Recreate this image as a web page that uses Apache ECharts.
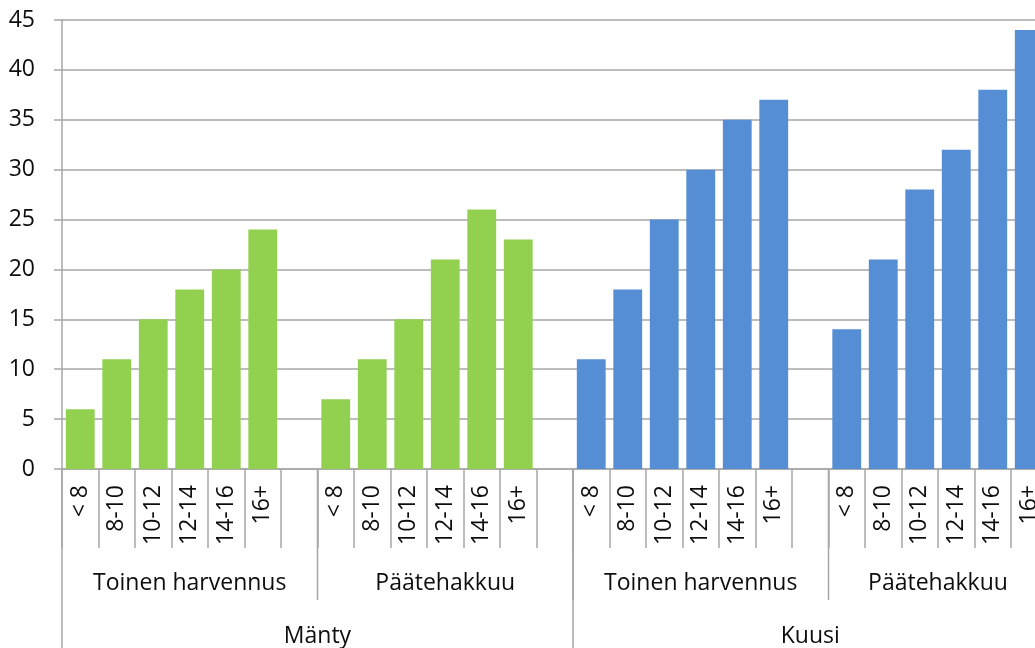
<!DOCTYPE html>
<html>
<head>
<meta charset="utf-8">
<script src="https://cdn.jsdelivr.net/npm/echarts@6/dist/echarts.min.js"></script>
<style>
  html, body { margin: 0; padding: 0; background: #ffffff; overflow: hidden; }
  #chart { width: 1035px; height: 648px; }
</style>
</head>
<body>
<div id="chart"></div>
<script>
// Diameter classes (cm) used inside every cutting group
const classes = ['< 8', '8-10', '10-12', '12-14', '14-16', '16+'];
// Cutting types (second level) and tree species (third level)
const cuttings = ['Toinen harvennus', 'Päätehakkuu'];
const species = ['Mänty', 'Kuusi'];

// Values per species and cutting type
const mantyToinen = [6, 11, 15, 18, 20, 24];
const mantyPaate = [7, 11, 15, 21, 26, 23];
const kuusiToinen = [11, 18, 25, 30, 35, 37];
const kuusiPaate = [14, 21, 28, 32, 38, 44];

const yTicks = [0, 5, 10, 15, 20, 25, 30, 35, 40, 45];

const colors = { 'Mänty': '#92D050', 'Kuusi': '#558ED5' };
const FONT = '"Open Sans", "Noto Sans", sans-serif';
const FS = 23;
const TEXT = '#0d0d0d';
const LINE = '#a6a6a6';

// Build the flat category list: each group of six classes is followed by
// an empty spacer slot, except the very last group.
const groups = [
  { sp: 'Mänty', cut: cuttings[0], vals: mantyToinen },
  { sp: 'Mänty', cut: cuttings[1], vals: mantyPaate },
  { sp: 'Kuusi', cut: cuttings[0], vals: kuusiToinen },
  { sp: 'Kuusi', cut: cuttings[1], vals: kuusiPaate }
];
const cats = [];
const seriesData = { 'Mänty': [], 'Kuusi': [] };
const groupSpans = [];   // [startIndex, endIndexExclusive, label, species]
groups.forEach((g, gi) => {
  const start = cats.length;
  classes.forEach((c, i) => {
    cats.push(c);
    species.forEach(s => seriesData[s].push(s === g.sp ? g.vals[i] : null));
  });
  if (gi < groups.length - 1) {
    cats.push('');
    species.forEach(s => seriesData[s].push(null));
  }
  groupSpans.push([start, cats.length, g.cut, g.sp]);
});
const speciesSpans = species.map(s => {
  const gs = groupSpans.filter(g => g[3] === s);
  return [gs[0][0], gs[gs.length - 1][1], s];
});

const chart = echarts.init(document.getElementById('chart'));

// The plot continues past the right edge of the canvas.
const option = {
  animation: false,
  grid: {
    left: 62, top: 20, bottom: 179, width: 36.5 * cats.length,
    containLabel: false, outerBoundsMode: 'none'
  },
  xAxis: {
    type: 'category',
    data: cats,
    boundaryGap: true,
    axisLine: { lineStyle: { color: LINE, width: 1.5 } },
    axisTick: { show: true, interval: 0, length: 79, lineStyle: { color: LINE, width: 1.5 } },
    axisLabel: {
      interval: 0, rotate: 90, margin: 16,
      fontFamily: FONT, fontSize: FS, color: TEXT
    }
  },
  yAxis: {
    type: 'value',
    min: yTicks[0],
    max: yTicks[yTicks.length - 1],
    interval: 5,
    axisLine: { show: true, lineStyle: { color: LINE, width: 1.5 } },
    axisTick: { show: true, length: 8, lineStyle: { color: LINE, width: 1.5 } },
    axisLabel: { margin: 27, fontFamily: FONT, fontSize: FS, color: TEXT },
    splitLine: { lineStyle: { color: LINE, width: 1.5 } }
  },
  series: species.map(s => ({
    name: s,
    type: 'bar',
    stack: 'all',
    barCategoryGap: '21%',
    itemStyle: { color: colors[s] },
    data: seriesData[s]
  }))
};
chart.setOption(option);

// Hierarchical category labels below the diameter classes,
// positioned through the axis scale.
function drawHierarchy() {
  const c0 = chart.convertToPixel({ xAxisIndex: 0 }, 0);
  const c1 = chart.convertToPixel({ xAxisIndex: 0 }, 1);
  const band = c1 - c0;
  const edge = i => c0 - band / 2 + i * band;
  const axisY = chart.convertToPixel({ yAxisIndex: 0 }, 0);
  const lvl2Bottom = axisY + 131;
  const H = chart.getHeight();
  const elements = [];
  const line = (x, y1, y2) => ({
    type: 'line', silent: true,
    shape: { x1: x, y1: y1, x2: x, y2: y2 },
    style: { stroke: LINE, lineWidth: 1.5 }
  });
  const label = (text, cx, cy) => ({
    type: 'text', silent: true,
    x: cx, y: cy,
    style: { text: text, fontFamily: FONT, fontSize: FS, fill: TEXT, align: 'center', verticalAlign: 'middle' }
  });
  // Second level: cutting type
  groupSpans.forEach(g => {
    elements.push(line(edge(g[1]), axisY, lvl2Bottom));
    elements.push(label(g[2], (edge(g[0]) + edge(g[1])) / 2, axisY + 114));
  });
  // Third level: species
  elements.push(line(edge(0), axisY, H));
  speciesSpans.forEach(s => {
    elements.push(line(edge(s[1]), axisY, H));
    elements.push(label(s[2], (edge(s[0]) + edge(s[1])) / 2, axisY + 167));
  });
  chart.setOption({ graphic: { elements: elements } });
}
drawHierarchy();
</script>
</body>
</html>
